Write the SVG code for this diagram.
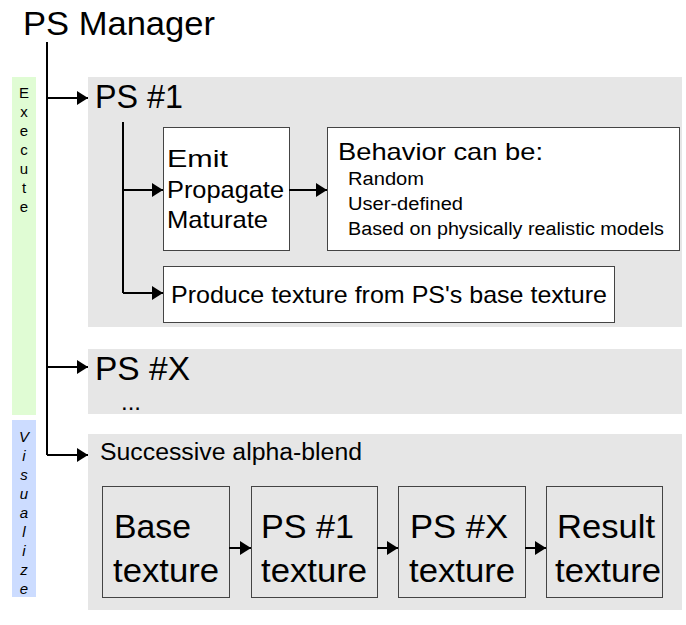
<svg xmlns="http://www.w3.org/2000/svg" width="686" height="625" viewBox="0 0 686 625">
<defs>
<style>
text{font-family:"Liberation Sans",Arial,sans-serif;fill:#000}
.panel{fill:#e6e6e6}
.box{fill:#fff;stroke:#444;stroke-width:1}
.tbox{fill:#e6e6e6;stroke:#444;stroke-width:1}
.ln{fill:none;stroke:#000;stroke-width:2}
.big{font-size:33px}
.mid{font-size:24px}
.sm{font-size:18px}
.side{font-size:15px;text-anchor:middle}
</style>
<marker id="ah" viewBox="0 0 11 14" refX="11" refY="7" markerWidth="11" markerHeight="14" markerUnits="userSpaceOnUse" orient="auto">
<path d="M0,0 L11,7 L0,14 Z" fill="#000"/>
</marker>
</defs>
<rect width="686" height="625" fill="#fff"/>
<g id="title"><text x="23" y="35" class="big" textLength="192" lengthAdjust="spacingAndGlyphs">PS Manager</text></g>
<g id="execute-band">
<rect x="12" y="77" width="24" height="338" fill="#e0fcd4"/>
<text class="side" x="24" y="98">E</text>
<text class="side" x="24" y="117">x</text>
<text class="side" x="24" y="136">e</text>
<text class="side" x="24" y="155">c</text>
<text class="side" x="24" y="174">u</text>
<text class="side" x="24" y="193">t</text>
<text class="side" x="24" y="212">e</text>
</g>
<g id="visualize-band">
<rect x="12" y="420" width="24" height="177" fill="#ccdcff"/>
<g font-style="italic">
<text class="side" x="24" y="442">V</text>
<text class="side" x="24" y="461">i</text>
<text class="side" x="24" y="480">s</text>
<text class="side" x="24" y="499">u</text>
<text class="side" x="24" y="518">a</text>
<text class="side" x="24" y="537">l</text>
<text class="side" x="24" y="556">i</text>
<text class="side" x="24" y="575">z</text>
<text class="side" x="24" y="594">e</text>
</g>
</g>
<g id="ps1">
<rect class="panel" x="88" y="77" width="594" height="250"/>
<text x="95" y="108" class="big" textLength="88" lengthAdjust="spacingAndGlyphs">PS #1</text>
</g>
<g id="emit">
<rect class="box" x="163.5" y="127.5" width="126" height="123"/>
<text x="167" y="167" class="mid" textLength="61" lengthAdjust="spacingAndGlyphs">Emit</text>
<text x="167" y="198" class="mid" textLength="117" lengthAdjust="spacingAndGlyphs">Propagate</text>
<text x="167" y="228" class="mid" textLength="101" lengthAdjust="spacingAndGlyphs">Maturate</text>
</g>
<g id="behavior">
<rect class="box" x="327.5" y="127.5" width="352" height="123"/>
<text x="338" y="160" class="mid" textLength="205" lengthAdjust="spacingAndGlyphs">Behavior can be:</text>
<text x="348" y="185" class="sm" textLength="76" lengthAdjust="spacingAndGlyphs">Random</text>
<text x="348" y="210" class="sm" textLength="115" lengthAdjust="spacingAndGlyphs">User-defined</text>
<text x="348" y="235" class="sm" textLength="316" lengthAdjust="spacingAndGlyphs">Based on physically realistic models</text>
</g>
<g id="produce">
<rect class="box" x="163.5" y="266.5" width="451" height="56"/>
<text x="171" y="303" class="mid" textLength="436" lengthAdjust="spacingAndGlyphs">Produce texture from PS's base texture</text>
</g>
<g id="psx">
<rect class="panel" x="88" y="349" width="594" height="65"/>
<text x="95" y="380" class="big" textLength="95" lengthAdjust="spacingAndGlyphs">PS #X</text>
<text x="121" y="410" class="mid">...</text>
</g>
<g id="blend">
<rect class="panel" x="88" y="434" width="594" height="176"/>
<text x="100" y="460" font-size="23" textLength="262" lengthAdjust="spacingAndGlyphs">Successive alpha-blend</text>
</g>
<g id="base-texture">
<rect class="tbox" x="102.5" y="486.5" width="127" height="111"/>
<text x="114" y="538" class="big" textLength="77" lengthAdjust="spacingAndGlyphs">Base</text>
<text x="113" y="582" class="big" textLength="106" lengthAdjust="spacingAndGlyphs">texture</text>
</g>
<g id="ps1-texture">
<rect class="tbox" x="251.5" y="486.5" width="126" height="111"/>
<text x="261" y="538" class="big" textLength="93" lengthAdjust="spacingAndGlyphs">PS #1</text>
<text x="261" y="582" class="big" textLength="106" lengthAdjust="spacingAndGlyphs">texture</text>
</g>
<g id="psx-texture">
<rect class="tbox" x="398.5" y="486.5" width="127" height="111"/>
<text x="410" y="538" class="big" textLength="98" lengthAdjust="spacingAndGlyphs">PS #X</text>
<text x="409" y="582" class="big" textLength="106" lengthAdjust="spacingAndGlyphs">texture</text>
</g>
<g id="result-texture">
<rect class="tbox" x="546.5" y="486.5" width="116" height="111"/>
<text x="557" y="538" class="big" textLength="98" lengthAdjust="spacingAndGlyphs">Result</text>
<text x="555" y="582" class="big" textLength="106" lengthAdjust="spacingAndGlyphs">texture</text>
</g>
<g id="connectors">
<path class="ln" d="M47,42 V455"/>
<path class="ln" d="M47,98 H88" marker-end="url(#ah)"/>
<path class="ln" d="M47,367 H88" marker-end="url(#ah)"/>
<path class="ln" d="M47,455 H88" marker-end="url(#ah)"/>
<path class="ln" d="M123,122 V293"/>
<path class="ln" d="M123,190 H163" marker-end="url(#ah)"/>
<path class="ln" d="M123,293 H163" marker-end="url(#ah)"/>
<path class="ln" d="M289,190 H327" marker-end="url(#ah)"/>
<path class="ln" d="M229,548 H251" marker-end="url(#ah)"/>
<path class="ln" d="M377,548 H398" marker-end="url(#ah)"/>
<path class="ln" d="M525,548 H546" marker-end="url(#ah)"/>
</g>
</svg>
